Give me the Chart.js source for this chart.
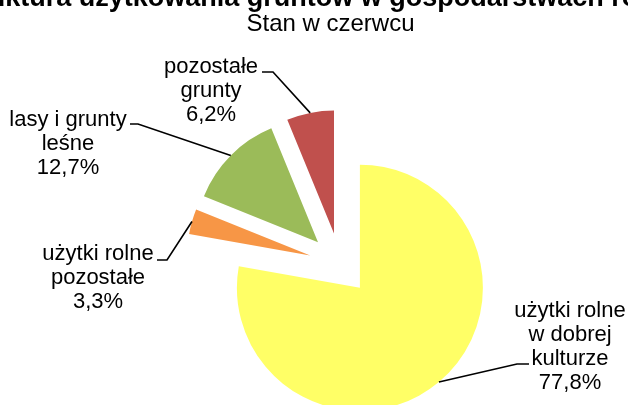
<!DOCTYPE html>
<html><head><meta charset="utf-8">
<script src="https://cdn.jsdelivr.net/npm/chart.js@4"></script>
<style>html,body{margin:0;padding:0;background:#fff;overflow:hidden}canvas{display:block}</style>
</head><body>
<canvas id="c" width="628" height="405"></canvas>
<script>
const titleText = "Struktura użytkowania gruntów w gospodarstwach rolnych";
const subtitleText = "Stan w czerwcu";
const categories = ["użytki rolne w dobrej kulturze", "użytki rolne pozostałe", "lasy i grunty leśne", "pozostałe grunty"];
const values = [77.8, 3.3, 12.7, 6.2];
const colors = ["#FFFF66", "#F79646", "#9BBB59", "#C0504D"];

// label layout (positions/styling only)
const labelLayout = [
  {lines: ["użytki rolne", "w dobrej", "kulturze"], x: 570, y: 317, elbow: [517, 364], end: [529, 364]},
  {lines: ["użytki rolne", "pozostałe"], x: 98, y: 260, elbow: [167, 260], end: [157, 260]},
  {lines: ["lasy i grunty", "leśne"], x: 68, y: 126, elbow: [138, 124], end: [130, 124]},
  {lines: ["pozostałe", "grunty"], x: 211, y: 73, elbow: [273, 72], end: [262, 72]}
];
const EXPLODE = 31;
const FONT = "'Liberation Sans', Arial, sans-serif";

const fmt = v => v.toFixed(1).replace('.', ',') + '%';

const explodePlugin = {
  id: 'explodePlugin',
  afterDatasetsUpdate(chart) {
    const meta = chart.getDatasetMeta(0);
    meta.data.forEach(arc => {
      const mid = (arc.startAngle + arc.endAngle) / 2;
      arc.x += Math.cos(mid) * EXPLODE;
      arc.y += Math.sin(mid) * EXPLODE;
    });
  }
};

const textPlugin = {
  id: 'textPlugin',
  afterDraw(chart) {
    const ctx = chart.ctx;
    ctx.save();
    ctx.fillStyle = '#000';
    ctx.textAlign = 'center';
    ctx.textBaseline = 'alphabetic';
    ctx.font = "bold 27px " + FONT;
    ctx.fillText(titleText, 330, 6);
    ctx.font = "24px " + FONT;
    ctx.fillText(subtitleText, 330.5, 31);

    const meta = chart.getDatasetMeta(0);
    ctx.font = "22px " + FONT;
    meta.data.forEach((arc, i) => {
      const L = labelLayout[i];
      const lines = L.lines.concat([fmt(values[i])]);
      lines.forEach((t, k) => ctx.fillText(t, L.x, L.y + k * 24));
      const mid = (arc.startAngle + arc.endAngle) / 2;
      const px = arc.x + Math.cos(mid) * arc.outerRadius;
      const py = arc.y + Math.sin(mid) * arc.outerRadius;
      ctx.beginPath();
      ctx.moveTo(px, py);
      ctx.lineTo(L.elbow[0], L.elbow[1]);
      ctx.lineTo(L.end[0], L.end[1]);
      ctx.lineWidth = 1.6;
      ctx.strokeStyle = '#000';
      ctx.stroke();
    });
    ctx.restore();
  }
};

new Chart(document.getElementById('c'), {
  type: 'pie',
  data: {
    labels: categories,
    datasets: [{
      data: values,
      backgroundColor: colors,
      borderWidth: 0,
      clip: false
    }]
  },
  options: {
    responsive: false,
    animation: false,
    radius: 123,
    layout: {padding: {left: 52, right: 0, top: 123, bottom: 0}},
    plugins: {
      legend: {display: false},
      title: {display: false},
      tooltip: {enabled: false}
    },
    events: []
  },
  plugins: [explodePlugin, textPlugin]
});
</script>
</body></html>
